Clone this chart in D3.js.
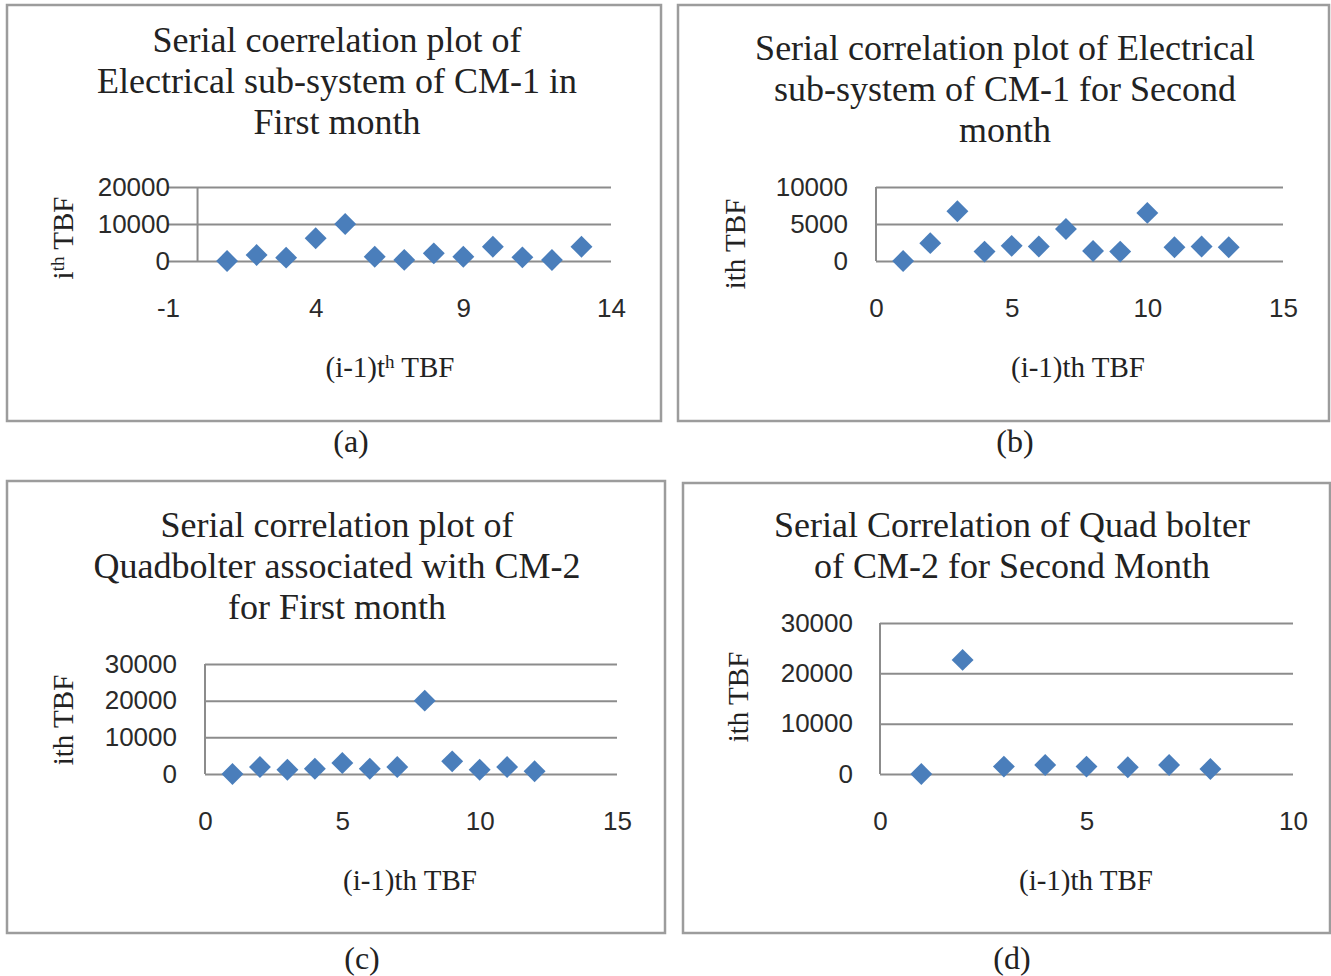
<!DOCTYPE html>
<html lang="en">
<head>
    <meta charset="UTF-8">
    <title>Serial correlation plots</title>
    <script src="https://d3js.org/d3.v7.min.js"></script>
    <style>
        body {
            margin: 0;
            background: #fff;
        }
        .frame {
            fill: none;
            stroke: #9c9c9c;
            stroke-width: 2.5px;
        }
        .grid line, .yline {
            stroke: #8c8c8c;
            stroke-width: 2px;
        }
        .tick text {
            font-family: "Liberation Sans", Arial, sans-serif;
            font-size: 26px;
            fill: #2a2a2a;
        }
        .title, .axis-title, .sub {
            font-family: "Liberation Serif", "Times New Roman", serif;
            fill: #222;
            text-anchor: middle;
        }
        .title { font-size: 36px; }
        .axis-title { font-size: 29px; }
        .sub { font-size: 32px; }
        .point {
            fill: #4a7ebb;
        }
    </style>
</head>
<body>
    <svg id="chart" width="1331" height="976"></svg>
    <script>
        // (a) electrical sub-system CM-1, first month
        const aX = [1, 2, 3, 4, 5, 6, 7, 8, 9, 10, 11, 12, 13];
        const aY = [0, 1620, 900, 6130, 10000, 1170, 300, 2070, 1170, 3870, 990, 270, 3870];
        const aXTicks = [-1, 4, 9, 14];
        const aYTicks = [0, 10000, 20000];

        // (b) electrical sub-system CM-1, second month
        const bX = [1, 2, 3, 4, 5, 6, 7, 8, 9, 10, 11, 12, 13];
        const bY = [0, 2410, 6730, 1270, 2050, 1950, 4320, 1360, 1270, 6500, 1860, 1950, 1860];
        const bXTicks = [0, 5, 10, 15];
        const bYTicks = [0, 5000, 10000];

        // (c) quadbolter CM-2, first month
        const cX = [1, 2, 3, 4, 5, 6, 7, 8, 9, 10, 11, 12];
        const cY = [0, 1910, 1180, 1450, 3000, 1450, 1910, 20000, 3450, 1180, 1910, 730];
        const cXTicks = [0, 5, 10, 15];
        const cYTicks = [0, 10000, 20000, 30000];

        // (d) quad bolter CM-2, second month
        const dX = [1, 2, 3, 4, 5, 6, 7, 8];
        const dY = [0, 22670, 1470, 1800, 1470, 1330, 1800, 1000];
        const dXTicks = [0, 5, 10];
        const dYTicks = [0, 10000, 20000, 30000];

        const panels = [
            {
                frame: [7, 5, 661, 421],
                title: ['Serial coerrelation plot of', 'Electrical sub-system of CM-1 in', 'First month'],
                titleX: 337, titleY: 40,
                xs: aX, ys: aY, xTicks: aXTicks, yTicks: aYTicks,
                xDomain: [-1, 14], xRange: [168, 611],
                yDomain: [0, 20000], yRange: [261, 187],
                yPad: -2, sup: true,
                xTitle: [390, 367], yTitle: [63, 238],
                sub: '(a)', subPos: [351, 441]
            },
            {
                frame: [678, 5, 1329, 421],
                title: ['Serial correlation plot of Electrical', 'sub-system of CM-1 for Second', 'month'],
                titleX: 1005, titleY: 48,
                xs: bX, ys: bY, xTicks: bXTicks, yTicks: bYTicks,
                xDomain: [0, 15], xRange: [876, 1283],
                yDomain: [0, 10000], yRange: [261, 187],
                yPad: 28, sup: false,
                xTitle: [1078, 367], yTitle: [735, 244],
                sub: '(b)', subPos: [1015, 441]
            },
            {
                frame: [7, 481, 665, 933],
                title: ['Serial correlation plot of', 'Quadbolter associated with CM-2', 'for First month'],
                titleX: 337, titleY: 525,
                xs: cX, ys: cY, xTicks: cXTicks, yTicks: cYTicks,
                xDomain: [0, 15], xRange: [205, 617],
                yDomain: [0, 30000], yRange: [774, 664],
                yPad: 28, sup: false,
                xTitle: [410, 880], yTitle: [63, 720],
                sub: '(c)', subPos: [362, 958]
            },
            {
                frame: [683, 483, 1330, 933],
                title: ['Serial Correlation of Quad bolter', 'of CM-2 for Second Month'],
                titleX: 1012, titleY: 525,
                xs: dX, ys: dY, xTicks: dXTicks, yTicks: dYTicks,
                xDomain: [0, 10], xRange: [880, 1293],
                yDomain: [0, 30000], yRange: [774, 623],
                yPad: 27, sup: false,
                xTitle: [1086, 880], yTitle: [738, 697],
                sub: '(d)', subPos: [1012, 958]
            }
        ];

        const svg = d3.select('#chart');
        const diamond = d3.symbol().type(d3.symbolSquare).size(240);
        const plain = d => String(d);

        panels.forEach(p => {
            const g = svg.append('g');

            g.append('rect')
                .attr('class', 'frame')
                .attr('x', p.frame[0])
                .attr('y', p.frame[1])
                .attr('width', p.frame[2] - p.frame[0])
                .attr('height', p.frame[3] - p.frame[1]);

            const x = d3.scaleLinear().domain(p.xDomain).range(p.xRange);
            const y = d3.scaleLinear().domain(p.yDomain).range(p.yRange);
            const w = p.xRange[1] - p.xRange[0];

            // horizontal gridlines with left labels
            g.append('g')
                .attr('class', 'grid')
                .attr('transform', `translate(${p.xRange[0]},0)`)
                .call(d3.axisLeft(y).tickValues(p.yTicks).tickSize(-w).tickPadding(p.yPad).tickFormat(plain))
                .call(s => s.select('.domain').remove());

            // vertical axis line at x = 0
            g.append('line')
                .attr('class', 'yline')
                .attr('x1', x(0)).attr('x2', x(0))
                .attr('y1', y(p.yDomain[1])).attr('y2', y(0));

            g.append('g')
                .attr('transform', `translate(0,${y(0)})`)
                .call(d3.axisBottom(x).tickValues(p.xTicks).tickSize(0).tickPadding(38).tickFormat(plain))
                .call(s => s.select('.domain').remove());

            g.selectAll('.point')
                .data(p.xs.map((v, i) => [v, p.ys[i]]))
                .join('path')
                .attr('class', 'point')
                .attr('d', diamond)
                .attr('transform', d => `translate(${x(d[0])},${y(d[1])}) rotate(45)`);

            g.append('text')
                .attr('class', 'title')
                .selectAll('tspan')
                .data(p.title)
                .join('tspan')
                .attr('x', p.titleX)
                .attr('y', (d, i) => p.titleY + i * 41)
                .attr('dy', '0.33em')
                .text(d => d);

            const xt = g.append('text')
                .attr('class', 'axis-title')
                .attr('x', p.xTitle[0])
                .attr('y', p.xTitle[1])
                .attr('dy', '0.33em');
            const yt = g.append('text')
                .attr('class', 'axis-title')
                .attr('transform', `translate(${p.yTitle[0]},${p.yTitle[1]}) rotate(-90)`)
                .attr('dy', '0.33em');

            if (p.sup) {
                xt.append('tspan').text('(i-1)t');
                xt.append('tspan').attr('font-size', '19px').attr('dy', '-0.45em').text('h');
                xt.append('tspan').attr('dy', '0.3em').text(' TBF');
                yt.append('tspan').text('i');
                yt.append('tspan').attr('font-size', '19px').attr('dy', '-0.45em').text('th');
                yt.append('tspan').attr('dy', '0.3em').text(' TBF');
            } else {
                xt.text('(i-1)th TBF');
                yt.text('ith TBF');
            }

            g.append('text')
                .attr('class', 'sub')
                .attr('x', p.subPos[0])
                .attr('y', p.subPos[1])
                .attr('dy', '0.33em')
                .text(p.sub);
        });
    </script>
</body>
</html>
